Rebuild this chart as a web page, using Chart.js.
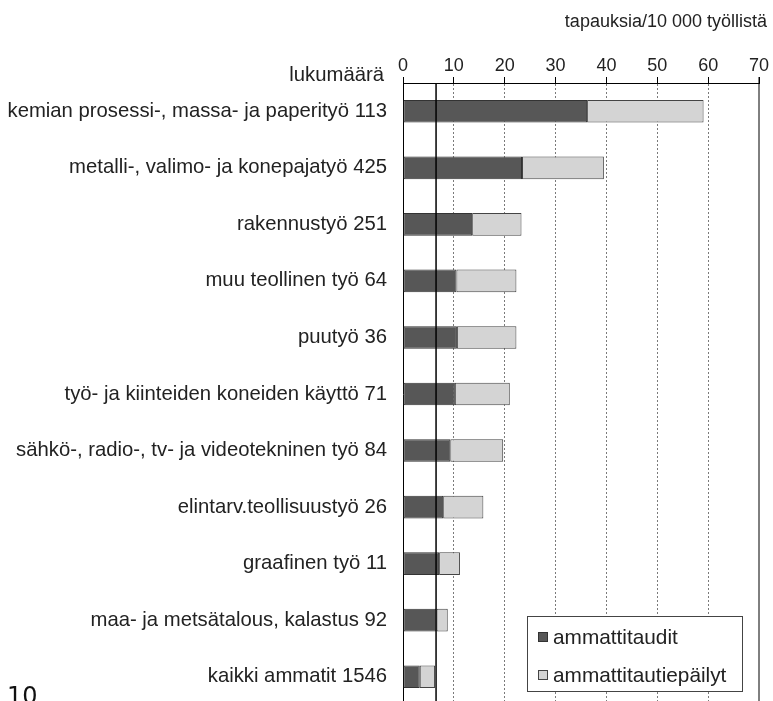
<!DOCTYPE html>
<html lang="fi">
<head>
    <meta charset="UTF-8">
    <title>Ammattitaudit ammateittain</title>
    <style>
        html, body {
            margin: 0;
            padding: 0;
            overflow: hidden;
            background: #fff;
        }
        .chart-container {
            position: relative;
            width: 773px;
            height: 705px;
        }
        .sivunumero {
            position: absolute;
            left: 7px;
            top: 682px;
            font-family: "DejaVu Sans", sans-serif;
            font-size: 24px;
            color: #111;
        }
    </style>
</head>
<body>
    <div class="chart-container">
        <canvas id="tauditChart"></canvas>
    </div>
    <div class="sivunumero">10</div>

    <script src="https://cdn.jsdelivr.net/npm/chart.js"></script>
    <script>
        // ammattiryhmät ja tapausten lukumäärät
        const ryhmat = [
            'kemian prosessi-, massa- ja paperityö',
            'metalli-, valimo- ja konepajatyö',
            'rakennustyö',
            'muu teollinen työ',
            'puutyö',
            'työ- ja kiinteiden koneiden käyttö',
            'sähkö-, radio-, tv- ja videotekninen työ',
            'elintarv.teollisuustyö',
            'graafinen työ',
            'maa- ja metsätalous, kalastus',
            'kaikki ammatit'
        ];
        const lukumaarat = [113, 425, 251, 64, 36, 71, 84, 26, 11, 92, 1546];

        // tapauksia / 10 000 työllistä
        const ammattitaudit = [36.2, 23.4, 13.6, 10.5, 10.6, 10.2, 9.3, 7.9, 7.1, 6.6, 3.3];
        const epailyt = [22.9, 16.1, 9.7, 11.8, 11.7, 10.8, 10.4, 7.9, 4.1, 2.2, 3.0];

        const keskiarvo = 6.5;
        const xTicks = [0, 10, 20, 30, 40, 50, 60, 70];

        const labels = ryhmat.map((r, i) => r + ' ' + lukumaarat[i]);
        const fontti = 'Liberation Sans, Arial, sans-serif';

        // otsikot, pystyviiva, oikea reuna ja selite
        const lisat = {
            id: 'lisat',
            afterDatasetsDraw(chart) {
                const {ctx, chartArea, scales} = chart;
                const x = scales.x.getPixelForValue(keskiarvo);
                ctx.save();
                ctx.strokeStyle = '#000';
                ctx.lineWidth = 1.5;
                ctx.beginPath();
                ctx.moveTo(x, chartArea.top);
                ctx.lineTo(x, chartArea.bottom);
                ctx.stroke();

                const xr = scales.x.getPixelForValue(xTicks[xTicks.length - 1]);
                ctx.lineWidth = 1;
                ctx.beginPath();
                ctx.moveTo(xr, chartArea.top - 6);
                ctx.lineTo(xr, chartArea.bottom);
                ctx.stroke();
                ctx.restore();
            },
            afterDraw(chart) {
                const {ctx, chartArea} = chart;
                ctx.save();
                ctx.fillStyle = '#222';
                ctx.textBaseline = 'alphabetic';
                ctx.textAlign = 'right';
                ctx.font = '18px ' + fontti;
                ctx.fillText('tapauksia/10 000 työllistä', 767, 27);
                ctx.font = '20.3px ' + fontti;
                ctx.fillText('lukumäärä', 384, 81);

                // selite
                const bx = chartArea.right - 232, by = 616, bw = 215, bh = 75;
                ctx.fillStyle = '#fff';
                ctx.fillRect(bx, by, bw, bh);
                ctx.strokeStyle = '#444';
                ctx.lineWidth = 1;
                ctx.strokeRect(bx + 0.5, by + 0.5, bw, bh);
                ctx.textAlign = 'left';
                ctx.textBaseline = 'middle';
                ctx.font = '20.8px ' + fontti;
                chart.data.datasets.forEach((ds, i) => {
                    const yy = by + 21 + i * 38;
                    ctx.fillStyle = ds.backgroundColor;
                    ctx.fillRect(bx + 11, yy - 5, 10, 10);
                    ctx.strokeStyle = ds.borderColor;
                    ctx.strokeRect(bx + 11.5, yy - 4.5, 9, 9);
                    ctx.fillStyle = '#222';
                    ctx.fillText(ds.label, bx + 26, yy + 1);
                });
                ctx.restore();
            }
        };

        const ctx = document.getElementById('tauditChart').getContext('2d');
        new Chart(ctx, {
            type: 'bar',
            data: {
                labels: labels,
                datasets: [{
                    label: 'ammattitaudit',
                    data: ammattitaudit,
                    backgroundColor: '#575757',
                    borderColor: '#333',
                    borderWidth: 1,
                    borderSkipped: false,
                    categoryPercentage: 1,
                    barPercentage: 0.4
                }, {
                    label: 'ammattitautiepäilyt',
                    data: epailyt,
                    backgroundColor: '#d4d4d4',
                    borderColor: '#444',
                    borderWidth: 1,
                    borderSkipped: false,
                    categoryPercentage: 1,
                    barPercentage: 0.4
                }]
            },
            options: {
                indexAxis: 'y',
                responsive: true,
                maintainAspectRatio: false,
                animation: false,
                layout: {
                    padding: { left: 0, right: 14, top: 0, bottom: 0 }
                },
                plugins: {
                    legend: { display: false },
                    tooltip: { enabled: false }
                },
                scales: {
                    x: {
                        position: 'top',
                        stacked: true,
                        min: 0,
                        max: 70,
                        afterBuildTicks: (scale) => {
                            scale.ticks = xTicks.map(v => ({ value: v }));
                        },
                        afterFit: (scale) => { scale.height = 83; },
                        ticks: {
                            color: '#222',
                            padding: 0,
                            font: { family: fontti, size: 18 }
                        },
                        grid: {
                            color: (c) => (c.index === 0 || c.index === xTicks.length - 1) ? 'rgba(0,0,0,0)' : '#7a7a7a',
                            tickColor: '#000',
                            tickLength: 6,
                            tickBorderDash: []
                        },
                        border: {
                            color: '#000',
                            width: 1,
                            dash: [2, 2]
                        }
                    },
                    y: {
                        stacked: true,
                        afterFit: (scale) => {
                            scale.width = 403;
                            scale.paddingTop = 0;
                            scale.paddingBottom = 0;
                        },
                        ticks: {
                            color: '#222',
                            padding: 8,
                            font: { family: fontti, size: 20.3 }
                        },
                        grid: { display: false },
                        border: { color: '#000', width: 1 }
                    }
                }
            },
            plugins: [lisat]
        });
    </script>
</body>
</html>
